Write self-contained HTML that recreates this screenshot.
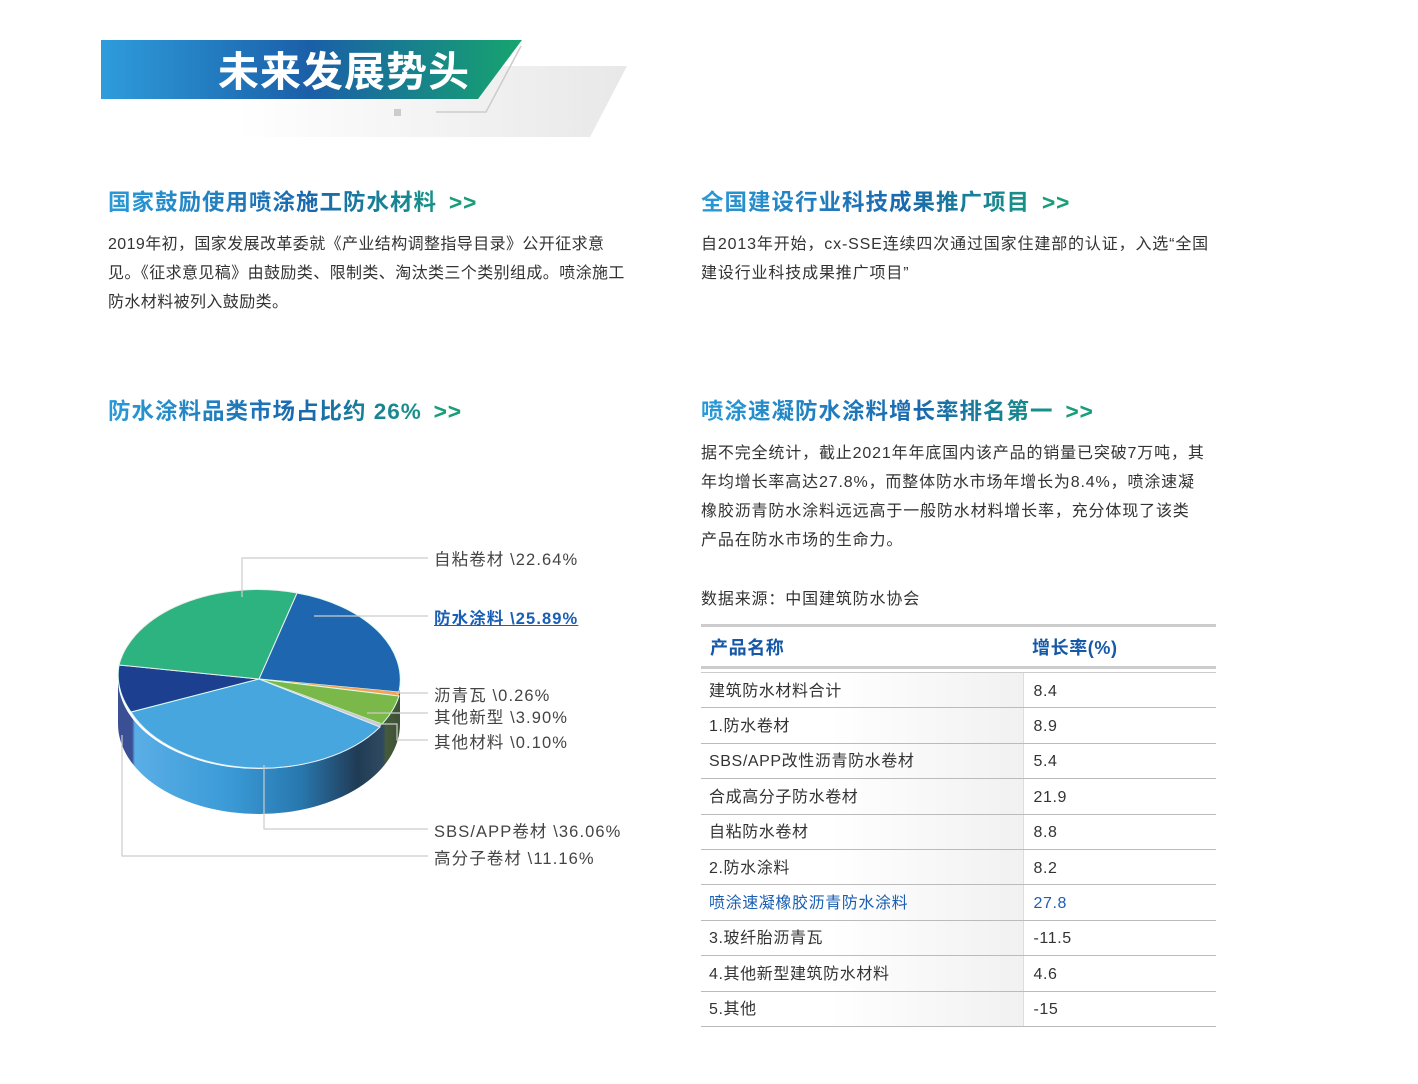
<!DOCTYPE html>
<html><head><meta charset="utf-8"><style>
*{margin:0;padding:0;box-sizing:border-box}
body{width:1418px;height:1084px;background:#fff;position:relative;overflow:hidden;font-family:"Liberation Sans","Noto Sans CJK SC",sans-serif;color:#333}
.a{position:absolute;white-space:nowrap}
.h{font-size:22.5px;font-weight:bold;letter-spacing:1px;background:linear-gradient(90deg,#2a9ad6,#1a68ad 55%,#17a07a);-webkit-background-clip:text;background-clip:text;color:transparent}
.h span{color:#1a9e7a;-webkit-text-fill-color:#1a9e7a;margin-left:12px}
.p{font-size:16px;line-height:29px;letter-spacing:0.4px;color:#333}
.r{letter-spacing:0.85px}
.lb{font-size:16.5px;color:#444;letter-spacing:1.1px}
table{position:absolute;left:701px;top:624px;width:515px;border-collapse:collapse;font-size:16px;letter-spacing:0.6px}
td{height:35.4px;border-bottom:1.5px solid #bbb;padding-left:8px;color:#333;line-height:20px;padding-top:3px}
td:first-child{width:322px;border-right:1.5px solid #ddd;background:linear-gradient(90deg,#fff 40%,#f1f1f1)}
td:last-child{padding-left:10px}
th{height:42px;text-align:left;padding-left:9px;color:#1658a8;font-size:18px;border-top:3px solid #ccc;border-bottom:3px solid #ccc}
.sp td{height:5px;border-bottom:1.5px solid #ccc;background:#fff;border-right:none;padding:0}
.bl td{color:#1a5fb4}
</style></head><body>
<svg class="a" style="left:0;top:0" width="700" height="150">
<defs>
<linearGradient id="tg" x1="0" x2="1"><stop offset="0" stop-color="#2e9cdb"/><stop offset="0.5" stop-color="#1a5fa8"/><stop offset="1" stop-color="#16a56e"/></linearGradient>
<linearGradient id="gg" x1="0" x2="1"><stop offset="0" stop-color="#fff"/><stop offset="1" stop-color="#e8e8e8"/></linearGradient>
</defs>
<polygon points="235,66 627,66 590,137 235,137" fill="url(#gg)"/>
<polygon points="101,40 522,40 478,99 101,99" fill="url(#tg)"/>
<polyline points="436,112 486,112 521,46" fill="none" stroke="#ccc" stroke-width="1.5"/>
<rect x="394" y="109" width="7" height="7" fill="#ccc"/>
<text x="218" y="86" font-size="41" font-weight="bold" fill="#fff" letter-spacing="1" font-family="Liberation Sans,Noto Sans CJK SC,sans-serif">未来发展势头</text>
</svg>

<div class="a h" style="left:108px;top:185px">国家鼓励使用喷涂施工防水材料<span>&gt;&gt;</span></div>
<div class="a p" style="left:108px;top:230px">2019年初，国家发展改革委就《产业结构调整指导目录》公开征求意<br>见。《征求意见稿》由鼓励类、限制类、淘汰类三个类别组成。喷涂施工<br>防水材料被列入鼓励类。</div>

<div class="a h" style="left:701px;top:185px">全国建设行业科技成果推广项目<span>&gt;&gt;</span></div>
<div class="a p r" style="left:701px;top:230px">自2013年开始，cx-SSE连续四次通过国家住建部的认证，入选“全国<br>建设行业科技成果推广项目”</div>

<div class="a h" style="left:108px;top:394px">防水涂料品类市场占比约 26%<span>&gt;&gt;</span></div>
<div class="a h" style="left:701px;top:394px">喷涂速凝防水涂料增长率排名第一<span>&gt;&gt;</span></div>
<div class="a p r" style="left:701px;top:439px">据不完全统计，截止2021年年底国内该产品的销量已突破7万吨，其<br>年均增长率高达27.8%，而整体防水市场年增长为8.4%，喷涂速凝<br>橡胶沥青防水涂料远远高于一般防水材料增长率，充分体现了该类<br>产品在防水市场的生命力。</div>
<div class="a p r" style="left:701px;top:585px">数据来源：中国建筑防水协会</div>

<svg class="a" style="left:0;top:540px" width="700" height="340">
<defs>
<linearGradient id="sg" x1="118" x2="400" gradientUnits="userSpaceOnUse">
<stop offset="0" stop-color="#3a4f94"/><stop offset="0.05" stop-color="#3a4f94"/><stop offset="0.06" stop-color="#5aaee6"/><stop offset="0.4" stop-color="#3a9ad6"/><stop offset="0.65" stop-color="#2877ae"/><stop offset="0.85" stop-color="#203b55"/><stop offset="0.94" stop-color="#2f4a60"/><stop offset="0.95" stop-color="#455a3a"/><stop offset="1" stop-color="#3e5035"/></linearGradient>
</defs>
<g transform="translate(0,-540)">
<path d="M118,679 A141,90 0 0 0 400,679 L400,724 A141,90 0 0 1 118,724 Z" fill="url(#sg)"/>
<path d="M259,679 L297,593 A141,90 0 0 1 399,692 Z" fill="#1f66b0" stroke="#dfe" stroke-width="1"/>
<path d="M259,679 L399,692 A141,90 0 0 1 399,696 Z" fill="#f2a25a"/>
<path d="M259,679 L399,696 A141,90 0 0 1 382,724 Z" fill="#7ab84a" stroke="#dfe" stroke-width="1"/>
<path d="M259,679 L382,724 A141,90 0 0 1 380,727 Z" fill="#ccc"/>
<path d="M259,679 L380,727 A141,90 0 0 1 131,712 Z" fill="#47a6de" stroke="#e6f0f8" stroke-width="1"/>
<path d="M259,679 L131,712 A141,90 0 0 1 119,665 Z" fill="#1d3f8f" stroke="#dfe" stroke-width="1"/>
<path d="M259,679 L119,665 A141,90 0 0 1 297,593 Z" fill="#2db380" stroke="#eee" stroke-width="1"/>
<g fill="none" stroke="#ccc" stroke-width="1.2">
<polyline points="242,597 242,558 428,558"/>
<polyline points="314,616 428,616"/>
<polyline points="396,693 428,693"/>
<polyline points="367,713 428,713"/>
<polyline points="379,724 397,724 397,740 428,740"/>
<polyline points="264,765 264,829 428,829"/>
<polyline points="122,735 122,856 428,856"/>
</g>
</g>
</svg>
<div class="a lb" style="left:434px;top:546px">自粘卷材 \22.64%</div>
<div class="a lb" style="left:434px;top:605px;color:#1a5fb4;font-weight:bold;text-decoration:underline">防水涂料 \25.89%</div>
<div class="a lb" style="left:434px;top:682px">沥青瓦 \0.26%</div>
<div class="a lb" style="left:434px;top:704px">其他新型 \3.90%</div>
<div class="a lb" style="left:434px;top:729px">其他材料 \0.10%</div>
<div class="a lb" style="left:434px;top:818px">SBS/APP卷材 \36.06%</div>
<div class="a lb" style="left:434px;top:845px">高分子卷材 \11.16%</div>

<table>
<tr><th>产品名称</th><th>增长率(%)</th></tr>
<tr class="sp"><td></td><td></td></tr>
<tr><td>建筑防水材料合计</td><td>8.4</td></tr>
<tr><td>1.防水卷材</td><td>8.9</td></tr>
<tr><td>SBS/APP改性沥青防水卷材</td><td>5.4</td></tr>
<tr><td>合成高分子防水卷材</td><td>21.9</td></tr>
<tr><td>自粘防水卷材</td><td>8.8</td></tr>
<tr><td>2.防水涂料</td><td>8.2</td></tr>
<tr class="bl"><td>喷涂速凝橡胶沥青防水涂料</td><td>27.8</td></tr>
<tr><td>3.玻纤胎沥青瓦</td><td>-11.5</td></tr>
<tr><td>4.其他新型建筑防水材料</td><td>4.6</td></tr>
<tr><td>5.其他</td><td>-15</td></tr>
</table>
</body></html>
